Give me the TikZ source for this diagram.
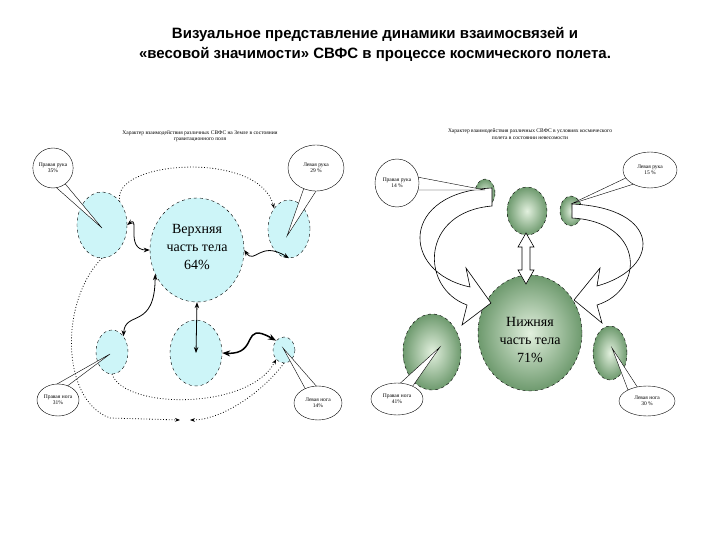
\documentclass[tikz,border=0pt]{standalone}
\usepackage{fontspec}
\setmainfont{Liberation Serif}
\newfontfamily\hd{Liberation Sans}
\usetikzlibrary{arrows.meta,shapes.geometric}
\definecolor{cy}{HTML}{CDF5F8}
\definecolor{gin}{HTML}{E2F0DE}
\definecolor{gout}{HTML}{6E9A6E}
\begin{document}
\begin{tikzpicture}[x=1pt,y=-1pt,
  cyb/.style={ellipse,draw,dashed,fill=cy,inner sep=0pt},
  grb/.style={ellipse,draw,dashed,inner sep=0pt,shading=radial,inner color=gin,outer color=gout},
  call/.style={ellipse,draw,fill=white,font=\fontsize{5.5}{6}\selectfont,align=center,inner sep=0pt},
  ptr/.style={draw,fill=white},
  dot/.style={dotted,thick,-{Stealth[length=5pt]}},
  wav/.style={thick,{Stealth[length=6pt]}-{Stealth[length=6pt]}},
  hol/.style={draw,fill=white,line width=0.6pt}]
\useasboundingbox (0,0) rectangle (720,540);
\fill[white] (0,0) rectangle (720,540);
\node[font=\hd\bfseries\fontsize{15}{20}\selectfont,align=center] (title) at (375,44) {Визуальное представление динамики взаимосвязей и\\«весовой значимости» СВФС в процессе космического полета.};
% left panel
\node[font=\fontsize{5.5}{6.5}\selectfont,align=center] (lt) at (200,136) {Характер взаимодействия различных СВФС на Земле в состоянии\\гравитационного поля};
\node[cyb,minimum width=94pt,minimum height=104pt] (up) at (197,250) {};
\node[font=\fontsize{14}{18}\selectfont,align=center] (upt) at (197,247) {Верхняя\\часть тела\\64\%};
\node[cyb,minimum width=50pt,minimum height=66pt] (ra) at (102,225) {};
\node[cyb,minimum width=42pt,minimum height=58pt] (la) at (289,229) {};
\node[cyb,minimum width=32pt,minimum height=44pt] (rl) at (112,352) {};
\node[cyb,minimum width=52pt,minimum height=66pt] (bm) at (196,353) {};
\node[cyb,minimum width=22pt,minimum height=26pt] (ll) at (284,350) {};
\coordinate (pra) at (102,228); \coordinate (pla) at (287,236);
\coordinate (prl) at (110,354); \coordinate (pll) at (283,348);
\filldraw[ptr] (50,182)--(pra)--(62,180)--cycle;
\filldraw[ptr] (305,185)--(pla)--(318,188)--cycle;
\filldraw[ptr] (50,388)--(prl)--(62,390)--cycle;
\filldraw[ptr] (306,390)--(pll)--(318,388)--cycle;
\node[call,minimum width=34pt,minimum height=40pt] (cra) at (53,168) {Правая рука\\35\%};
\node[call,minimum width=56pt,minimum height=46pt] (cla) at (316,168) {Левая рука\\29 \%};
\node[call,minimum width=42pt,minimum height=32pt] (crl) at (58,400) {Правая нога\\31\%};
\node[call,minimum width=48pt,minimum height=34pt] (cll) at (318,403) {Левая нога\\14\%};
\draw[dot] (ra.north east) .. controls (110,160) and (260,150) .. (la.north west);
\draw[dot] (rl.south) .. controls (125,410) and (250,410) .. (ll.south west);
\draw[dot] (ra.south) .. controls (60,300) and (60,400) .. (110,418) -- (180,420);
\draw[dot] (ll.south) .. controls (260,395) and (220,420) .. (190,420);
\draw[wav] (ra.east) .. controls (140,215) and (125,250) .. (up.west);
\draw[wav] (up.east) .. controls (255,265) and (260,240) .. (la.south);
\draw[wav] (up.210) .. controls (155,330) and (125,310) .. (rl.north east);
\draw[wav] (up.south) -- (bm.center);
\draw[line width=1.5pt,{Stealth[length=8pt]}-{Stealth[length=8pt]}] (bm.east) .. controls (260,355) and (240,320) .. (ll.north west);
% right panel
\node[font=\fontsize{5.5}{6.5}\selectfont,align=center] (rt) at (530,134) {Характер взаимодействия различных СВФС в условиях космического\\полета в состоянии невесомости};
\node[grb,minimum width=104pt,minimum height=116pt] (lo) at (530,333) {};
\node[font=\fontsize{14}{18}\selectfont,align=center] (lot) at (530,340) {Нижняя\\часть тела\\71\%};
\node[grb,minimum width=20pt,minimum height=28pt] (gra) at (485,193) {};
\node[grb,minimum width=40pt,minimum height=48pt] (gtm) at (527,211) {};
\node[grb,minimum width=22pt,minimum height=30pt] (gla) at (571,211) {};
\node[grb,minimum width=58pt,minimum height=76pt] (grl) at (432,352) {};
\node[grb,minimum width=34pt,minimum height=54pt] (gll) at (610,353) {};
% hollow arrows
\draw[hol] (492,188) .. controls (400,192) and (400,272) .. (470,287) -- (466,268) -- (491,303) -- (462,325) -- (467,305) .. controls (420,288) and (420,212) .. (492,206) -- cycle;
\draw[hol] (572,204) .. controls (662,208) and (662,268) .. (597,286) -- (600,268) -- (574,300) -- (602,323) -- (597,305) .. controls (645,290) and (645,222) .. (572,218) -- cycle;
\draw[hol] (526,233) -- (534,247) -- (530,247) -- (530,270) -- (534,270) -- (526,284) -- (518,270) -- (522,270) -- (522,247) -- (518,247) -- cycle;
\coordinate (qra) at (485,190); \coordinate (qla) at (571,204);
\coordinate (qrl) at (440,347); \coordinate (qll) at (612,348);
\filldraw[ptr] (412,176)--(qra)--(414,190)--cycle;
\filldraw[ptr] (630,176)--(qla)--(637,183)--cycle;
\filldraw[ptr] (395,388)--(qrl)--(410,390)--cycle;
\filldraw[ptr] (628,390)--(qll)--(638,388)--cycle;
\node[call,minimum width=44pt,minimum height=48pt] (dra) at (397,183) {Правая рука\\14 \%};
\node[call,minimum width=54pt,minimum height=36pt] (dla) at (650,170) {Левая рука\\15 \%};
\node[call,minimum width=52pt,minimum height=32pt] (drl) at (397,399) {Правая нога\\41\%};
\node[call,minimum width=56pt,minimum height=30pt] (dll) at (647,401) {Левая нога\\30 \%};
\end{tikzpicture}
\end{document}
